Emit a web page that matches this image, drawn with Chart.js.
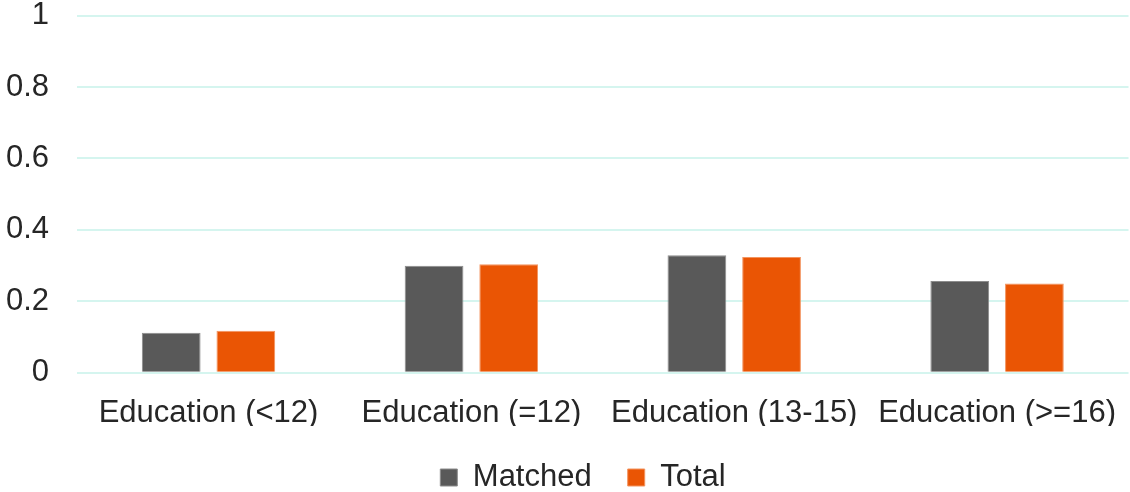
<!DOCTYPE html>
<html lang="en">
<head>
  <meta charset="UTF-8">
  <title>Education</title>
  <style>
    html, body { margin: 0; padding: 0; background: #fff; overflow: hidden; }
    .chart-container { width: 1130px; height: 523px; position: relative; margin-top: -31px; }
  </style>
</head>
<body>
  <div class="chart-container">
    <canvas id="edu-chart"></canvas>
  </div>

  <script src="https://cdn.jsdelivr.net/npm/chart.js"></script>
  <script>
    var categories = ['Education (<12)', 'Education (=12)', 'Education (13-15)', 'Education (>=16)'];
    var matched = [0.112, 0.300, 0.329, 0.257];
    var total = [0.118, 0.304, 0.324, 0.250];
    var yTicks = [0, 0.2, 0.4, 0.6, 0.8, 1];

    Chart.defaults.font.family = '"Liberation Sans", Arial, sans-serif';
    Chart.defaults.font.size = 31;
    Chart.defaults.color = '#262626';

    // nudge the legend a little right, like the original
    var legendShift = {
      id: 'legendShift',
      afterLayout: function(chart) {
        chart.legend.left += 24;
        chart.legend.right += 24;
      }
    };

    var eduChart = new Chart(document.getElementById('edu-chart'), {
      type: 'bar',
      data: {
        labels: categories,
        datasets: [{
          label: 'Matched',
          data: matched,
          backgroundColor: '#595959',
          borderColor: '#8c8c8c',
          borderWidth: 1
        }, {
          label: 'Total',
          data: total,
          backgroundColor: '#ea5504',
          borderColor: '#f3945f',
          borderWidth: 1
        }]
      },
      options: {
        responsive: true,
        maintainAspectRatio: false,
        animation: false,
        categoryPercentage: 0.568,
        barPercentage: 0.787,
        layout: { padding: { left: -22, top: 0, right: -10, bottom: -11 } },
        plugins: {
          tooltip: { enabled: false },
          legend: {
            position: 'bottom',
            labels: { boxWidth: 17, boxHeight: 17, padding: 36, color: '#262626' }
          }
        },
        scales: {
          x: {
            grid: { display: false },
            border: { display: false },
            ticks: { padding: 14, maxRotation: 0, autoSkip: false },
            afterFit: function(axis) { axis.height -= 20; }
          },
          y: {
            min: 0,
            max: 1,
            afterBuildTicks: function(axis) {
              axis.ticks = yTicks.map(function(v) { return { value: v }; });
            },
            grid: { color: '#d5f5ef', lineWidth: 2, drawTicks: false },
            border: { display: false },
            ticks: {
              padding: 28,
              callback: function(v) { return String(Math.round(v * 10) / 10); }
            }
          }
        }
      },
      plugins: [legendShift]
    });
  </script>
</body>
</html>
